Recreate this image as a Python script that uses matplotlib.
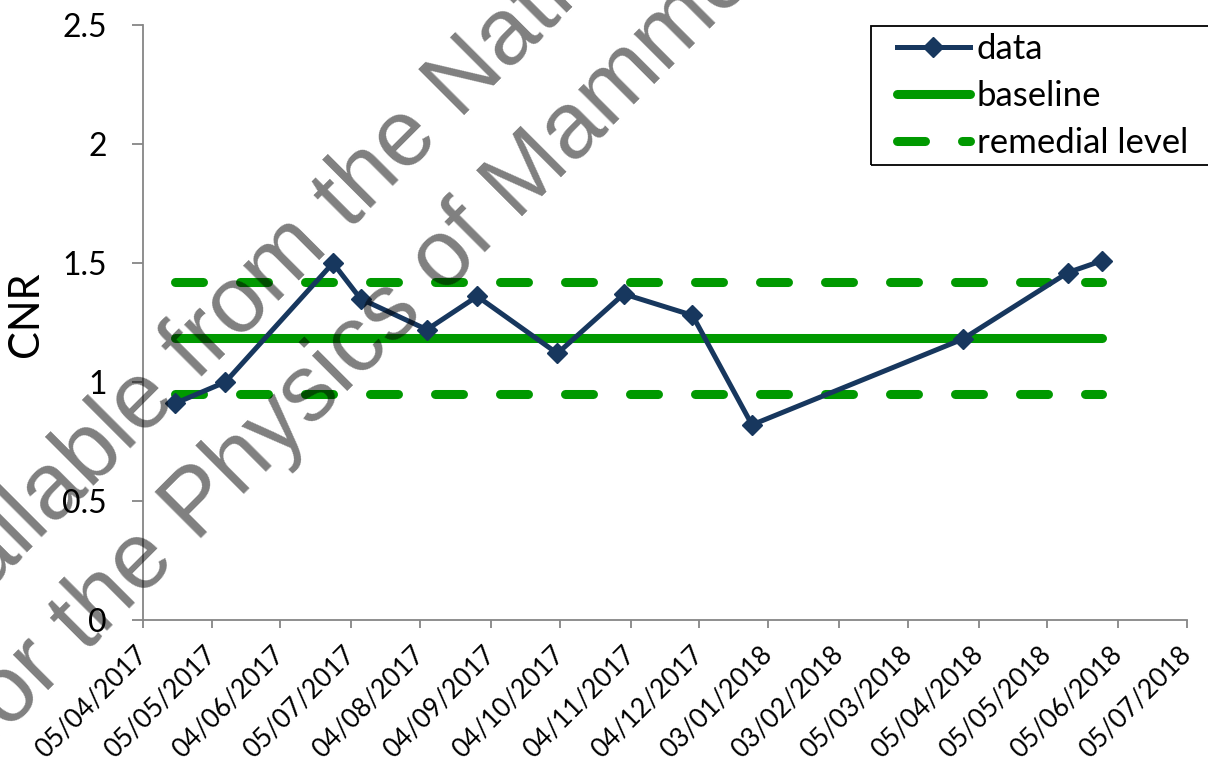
import datetime as dt
import matplotlib
matplotlib.use('Agg')
import matplotlib.pyplot as plt
from matplotlib.patches import Rectangle

# QC measurements (dd/mm/yyyy) and contrast-to-noise ratio
meas_dates = ['19/04/2017', '11/05/2017', '27/06/2017', '09/07/2017', '07/08/2017',
              '29/08/2017', '03/10/2017', '01/11/2017', '01/12/2017', '27/12/2017',
              '29/03/2018', '14/05/2018', '29/05/2018']
cnr = [0.91, 1.00, 1.50, 1.35, 1.22, 1.36, 1.12, 1.37, 1.28, 0.82, 1.18, 1.46, 1.51]

baseline = 1.185
remedial_low = 0.95
remedial_high = 1.42

tick_dates = ['05/04/2017', '05/05/2017', '04/06/2017', '05/07/2017', '04/08/2017',
              '04/09/2017', '04/10/2017', '04/11/2017', '04/12/2017', '03/01/2018',
              '03/02/2018', '05/03/2018', '05/04/2018', '05/05/2018', '05/06/2018',
              '05/07/2018']
y_ticks = [0, 0.5, 1, 1.5, 2, 2.5]
y_ticklabels = ['0', '0.5', '1', '1.5', '2', '2.5']

def d(s):
    return dt.datetime.strptime(s, '%d/%m/%Y')

x = [d(s) for s in meas_dates]
xt = [d(s) for s in tick_dates]

plt.rcParams['font.family'] = ['Lato', 'DejaVu Sans']
W, H = 1208, 760
fig = plt.figure(figsize=(W / 100, H / 100), dpi=100)
ax = fig.add_axes([143 / W, 1 - 620 / H, 1044 / W, 595 / H])

GREEN = '#009900'
NAVY = '#17375E'
AXC = '#868686'

ends = [x[0], x[-1]]
ax.plot(ends, [remedial_high] * 2, color=GREEN, lw=6.5, ls=(0, (3.1, 4.1)),
        dash_capstyle='round', label='remedial level', zorder=2)
ax.plot(ends, [remedial_low] * 2, color=GREEN, lw=6.5, ls=(0, (3.1, 4.1)),
        dash_capstyle='round', zorder=2)
ax.plot(ends, [baseline] * 2, color=GREEN, lw=6.5, solid_capstyle='round',
        label='baseline', zorder=2)
ax.plot(x, cnr, color=NAVY, lw=3.6, marker='D', ms=10, mec=NAVY, mfc=NAVY,
        label='data', zorder=3)

ax.set_xlim(xt[0], xt[-1])
ax.set_ylim(0, 2.5)
ax.set_xticks(xt)
ax.set_xticklabels(tick_dates, rotation=45, ha='right', va='center',
                   rotation_mode='anchor', fontsize=19)
ax.set_yticks(y_ticks)
ax.set_yticklabels(y_ticklabels, fontsize=23)

for s in ['top', 'right']:
    ax.spines[s].set_visible(False)
for s in ['left', 'bottom']:
    ax.spines[s].set_color(AXC)
    ax.spines[s].set_linewidth(1.3)
ax.tick_params(axis='x', length=5.8, width=1.3, color=AXC, pad=16)
ax.tick_params(axis='y', length=8, width=1.3, color=AXC, pad=18)

fig.text(25.5 / W, 1 - 314 / H, 'CNR', rotation=90, ha='center', va='center',
         fontsize=30)

# legend with a square black frame
fig.patches.append(Rectangle((871 / W, 1 - 165 / H), 345 / W, 139 / H,
                             transform=fig.transFigure, fill=False,
                             ec='black', lw=1.3))
h, l = ax.get_legend_handles_labels()
order = [2, 1, 0]
fig.legend([h[i] for i in order], [l[i] for i in order], loc='upper left',
           bbox_to_anchor=(897 / W, 1 - 33 / H), frameon=False, fontsize=25,
           borderpad=0, borderaxespad=0, handlelength=2.1, handletextpad=0.2,
           labelspacing=0.435, numpoints=1)

# watermark
wm = dict(fontsize=67.7, family='Liberation Sans', color='black', alpha=0.5,
          rotation=45, rotation_mode='anchor', ha='left', va='baseline', zorder=10)
fig.text(-90 / W, 1 - 670 / H, 'Available from the National Coordinating Centre', **wm)
fig.text(-11 / W, 1 - 750 / H, 'for the Physics of Mammography', **wm)

fig.savefig('out.png', dpi=100)
